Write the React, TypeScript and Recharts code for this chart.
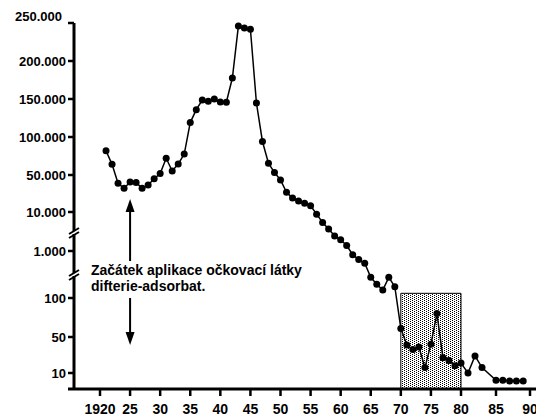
import React from 'react';
import {
  LineChart,
  Line,
  XAxis,
  YAxis,
  ReferenceArea,
  ReferenceLine,
  ReferenceDot,
} from 'recharts';

// ---- data ----
const years = [
  1921, 1922, 1923, 1924, 1925, 1926, 1927, 1928, 1929, 1930,
  1931, 1932, 1933, 1934, 1935, 1936, 1937, 1938, 1939, 1940,
  1941, 1942, 1943, 1944, 1945, 1946, 1947, 1948, 1949, 1950,
  1951, 1952, 1953, 1954, 1955, 1956, 1957, 1958, 1959, 1960,
  1961, 1962, 1963, 1964, 1965, 1966, 1967, 1968, 1969, 1970,
  1971, 1972, 1973, 1974, 1975, 1976, 1977, 1978, 1979, 1980,
  1981, 1982, 1983, 1985, 1986, 1987, 1988, 1989,
];
const cases = [
  82000, 64000, 41000, 35600, 42500, 42000, 35600, 39200, 46000, 52000,
  72000, 55300, 64500, 77600, 119000, 136000, 148700, 147000, 150000, 146000,
  145700, 177600, 246000, 243400, 241700, 144700, 94100, 65400, 53300, 44600,
  31300, 25100, 21900, 19400, 16800, 9500, 7600, 6100, 4460, 3580,
  2270, 930, 835, 764, 496, 362, 253, 496, 316, 61,
  41, 36, 39, 16, 42, 80, 27, 24, 18, 21,
  10, 29, 16, 2, 2, 1, 1, 1,
];

const xTickYears = [1920, 1925, 1930, 1935, 1940, 1945, 1950, 1955, 1960, 1965, 1970, 1975, 1980, 1985, 1990];
const xTickLabels = ['1920', '25', '30', '35', '40', '45', '50', '55', '60', '65', '70', '75', '80', '85', '90'];
const yTickValues = [10, 50, 100, 1000, 10000, 50000, 100000, 150000, 200000, 250000];
const yTickLabels = ['10', '50', '100', '1.000', '10.000', '50.000', '100.000', '150.000', '200.000', '250.000'];

const vaccinationYear = 1925;
const highlightStart = 1970;
const highlightEnd = 1980;
const highlightTop = 190;
const annotationLines = ['Začátek aplikace očkovací látky', 'difterie-adsorbat.'];

// ---- broken (piecewise) axis scales ----
const yAnchors: [number, number][] = [
  [0, 7], [10, 16], [50, 52], [100, 91], [1000, 138], [10000, 177],
  [50000, 214], [100000, 252], [150000, 290], [200000, 328], [250000, 366],
];
const xAnchors: [number, number][] = [[1920, 26], [1980, 387], [1985, 422], [1990, 456]];

function piecewise(anchors: [number, number][], v: number): number {
  for (let i = 0; i < anchors.length - 1; i++) {
    const [a0, b0] = anchors[i];
    const [a1, b1] = anchors[i + 1];
    if (v <= a1 || i === anchors.length - 2) return b0 + ((v - a0) * (b1 - b0)) / (a1 - a0);
  }
  return 0;
}
const ys = (v: number) => piecewise(yAnchors, v);
const xs = (v: number) => piecewise(xAnchors, v);

const data = years.map((yr, i) => ({ year: yr, cases: cases[i], px: xs(yr), py: ys(cases[i]) }));
const xTicks = xTickYears.map(xs);
const yTicks = yTickValues.map(ys);

const FONT = '"Liberation Sans", Arial, Helvetica, sans-serif';

function YTick(props: any) {
  const { x, y, payload } = props;
  const idx = yTicks.findIndex((t) => Math.abs(t - payload.value) < 1e-6);
  const isTop = idx === yTicks.length - 1;
  return (
    <text
      x={x + (isTop ? -4 : 0)}
      y={y + (isTop ? -7 : 0)}
      dy="0.355em"
      textAnchor="end"
      fill="#000"
      fontSize={13}
      fontWeight="bold"
      fontFamily={FONT}
    >
      {idx >= 0 ? yTickLabels[idx] : ''}
    </text>
  );
}

const BreakMark = (p: any) => {
  const { cx, cy } = p;
  return (
    <g>
      <rect x={cx - 3} y={cy - 2} width={6} height={3} fill="#fff" />
      <line x1={cx - 5} y1={cy + 1} x2={cx + 5} y2={cy - 5} stroke="#000" strokeWidth={2} />
      <line x1={cx - 5} y1={cy + 5} x2={cx + 5} y2={cy - 1} stroke="#000" strokeWidth={2} />
    </g>
  );
};

const ArrowUp = (p: any) => {
  const { cx, cy } = p;
  return <polygon points={`${cx},${cy} ${cx - 4.5},${cy + 13} ${cx + 4.5},${cy + 13}`} fill="#000" />;
};
const ArrowDown = (p: any) => {
  const { cx, cy } = p;
  return <polygon points={`${cx},${cy} ${cx - 4.5},${cy - 13} ${cx + 4.5},${cy - 13}`} fill="#000" />;
};
const Annotation = (p: any) => {
  const { cx, cy } = p;
  return (
    <g>
      {annotationLines.map((t, i) => (
        <text key={i} x={cx} y={cy + i * 16} fill="#000" fontSize={14} fontWeight="bold" fontFamily={FONT}>
          {t}
        </text>
      ))}
    </g>
  );
};

export default function App() {
  const ax = xs(vaccinationYear);
  return (
    <div style={{ position: 'absolute', left: 0, top: 0, background: '#fff' }}>
      <LineChart width={536} height={419} data={data} margin={{ top: 23, right: 0, bottom: 0, left: 0 }}>
        <defs>
          <pattern id="stipple" width={4} height={2} patternUnits="userSpaceOnUse">
            <rect width={4} height={2} fill="#fff" />
            <rect x={0} y={0} width={1} height={1} fill="#000" />
            <rect x={2} y={1} width={1} height={1} fill="#000" />
          </pattern>
        </defs>
        <XAxis
          type="number"
          dataKey="px"
          domain={[0, 462]}
          ticks={xTicks}
          interval={0}
          height={30}
          tickFormatter={(v: number) => {
            const i = xTicks.findIndex((t) => Math.abs(t - v) < 1e-6);
            return i >= 0 ? xTickLabels[i] : '';
          }}
          axisLine={{ stroke: '#000', strokeWidth: 3 }}
          tickLine={{ stroke: '#000', strokeWidth: 2.5 }}
          tickSize={7}
          tickMargin={8}
          tick={{ fill: '#000', fontSize: 14, fontWeight: 'bold', fontFamily: FONT }}
        />
        <YAxis
          type="number"
          domain={[0, 366]}
          ticks={yTicks}
          interval={0}
          width={74}
          axisLine={{ stroke: '#000', strokeWidth: 3 }}
          tickLine={{ stroke: '#000', strokeWidth: 2.5 }}
          tickSize={6}
          tickMargin={2}
          tick={<YTick />}
        />
        <ReferenceArea
          x1={xs(highlightStart)}
          x2={xs(highlightEnd)}
          y1={0}
          y2={ys(highlightTop)}
          fill="url(#stipple)"
          fillOpacity={1}
          stroke="#000"
          strokeWidth={1}
          ifOverflow="visible"
        />
        <ReferenceLine
          segment={[{ x: -6, y: 0 }, { x: 0, y: 0 }]}
          stroke="#000"
          strokeWidth={3}
          ifOverflow="visible"
        />
        <ReferenceLine segment={[{ x: ax, y: 128 }, { x: ax, y: 180 }]} stroke="#000" strokeWidth={2} />
        <ReferenceLine segment={[{ x: ax, y: 91 }, { x: ax, y: 55 }]} stroke="#000" strokeWidth={2} />
        <ReferenceDot x={ax} y={190} r={1} shape={ArrowUp} ifOverflow="visible" />
        <ReferenceDot x={ax} y={44} r={1} shape={ArrowDown} ifOverflow="visible" />
        <ReferenceDot x={17} y={114} r={1} shape={Annotation} ifOverflow="visible" />
        <ReferenceDot x={0} y={156} r={1} shape={BreakMark} ifOverflow="visible" />
        <ReferenceDot x={0} y={114} r={1} shape={BreakMark} ifOverflow="visible" />
        <Line
          type="linear"
          dataKey="py"
          stroke="#000"
          strokeWidth={1.5}
          dot={{ r: 3.5, fill: '#000', stroke: '#000', strokeWidth: 0 }}
          activeDot={false}
          isAnimationActive={false}
        />
      </LineChart>
    </div>
  );
}
